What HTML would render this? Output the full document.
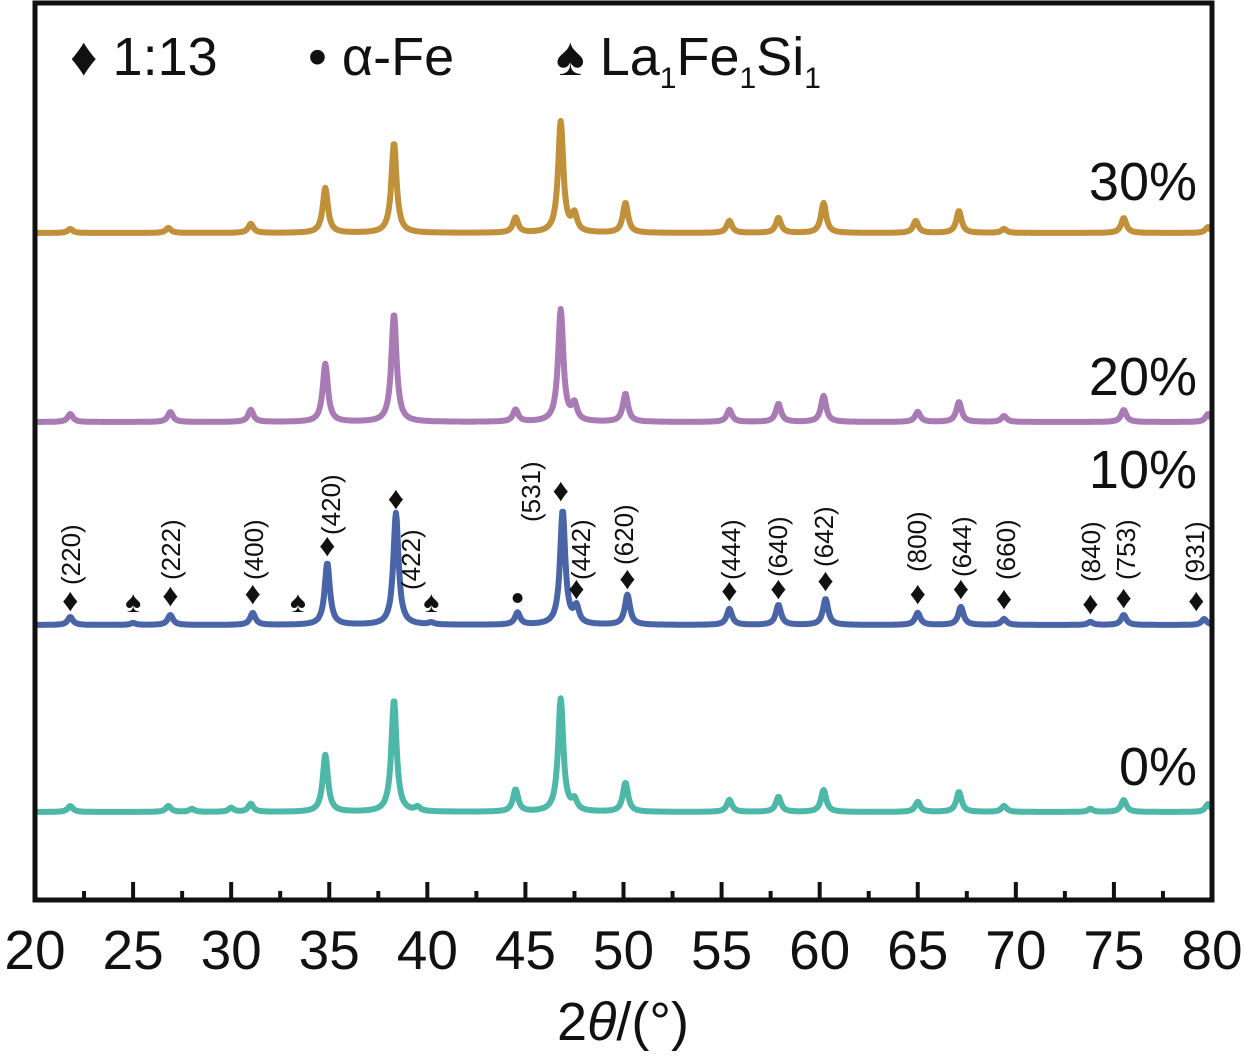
<!DOCTYPE html>
<html><head><meta charset="utf-8"><style>
body{margin:0;background:#fff;}
svg{display:block;font-family:"Liberation Sans",Arial,sans-serif;}
</style></head><body>
<svg id="chart" width="1245" height="1059" viewBox="0 0 1245 1059" xmlns="http://www.w3.org/2000/svg">
<g id="series"></g>
<g id="marks"></g>
<rect x="35" y="3" width="1177" height="897" fill="none" stroke="#111" stroke-width="5"/>
<g id="axis"></g>
<text x="623" y="1040" font-size="54" text-anchor="middle" fill="#111">2<tspan font-style="italic">θ</tspan>/(°)</text>
<g font-size="54" fill="#111">
<text x="70" y="75">♦ 1:13</text>
<text x="308" y="75">• α-Fe</text>
<text x="556" y="75">♠ La<tspan font-size="30" dy="13">1</tspan><tspan dy="-13">Fe</tspan><tspan font-size="30" dy="13">1</tspan><tspan dy="-13">Si</tspan><tspan font-size="30" dy="13">1</tspan></text>
</g>
</svg>
<script>
const seriesNames=["30%","20%","10%","0%"];
const seriesColors=["#C0903A","#A87BB5","#4A64A8","#4DB8A8"];
const baselines=[233,422,625,812];
const labelY=[200,395,488,785];
const peaks30=[[21.8,4],[26.8,5],[31.0,9],[34.8,45],[38.3,90],[44.5,15],[46.8,111],[47.5,17],[50.1,30],[55.4,12],[57.9,15],[60.2,30],[64.9,12],[67.1,22],[69.4,4],[75.5,15],[79.8,6]];
const peaks20=[[21.8,8],[26.9,10],[31.0,12],[34.8,58],[38.3,108],[44.5,12],[46.8,112],[47.5,16],[50.1,28],[55.4,12],[57.9,18],[60.2,26],[65.0,10],[67.1,20],[69.4,6],[75.5,12],[79.8,8]];
const peaks10=[[21.8,8],[25.0,2],[26.9,10],[31.1,12],[34.9,62],[38.4,112],[40.2,2],[44.6,12],[46.9,114],[47.6,16],[50.2,30],[55.4,16],[57.9,20],[60.3,26],[65.0,12],[67.2,18],[69.4,6],[73.8,3],[75.5,10],[79.6,6]];
const peaks0=[[21.8,6],[26.8,6],[28.0,3],[30.0,4],[31.0,8],[34.8,57],[38.3,112],[39.5,4],[44.5,22],[46.8,113],[47.5,10],[50.1,29],[55.4,12],[57.9,15],[60.2,22],[65.0,10],[67.1,20],[69.4,6],[73.8,3],[75.5,12],[79.8,8]];
const allPeaks=[peaks30,peaks20,peaks10,peaks0];
const xTicks=[20,25,30,35,40,45,50,55,60,65,70,75,80];
const hklLabels=["(220)","(222)","(400)","(420)","(422)","(531)","(442)","(620)","(444)","(640)","(642)","(800)","(644)","(660)","(840)","(753)","(931)"];
const hklPos=[21.8,26.9,31.1,34.9,38.4,46.8,47.6,50.2,55.4,57.9,60.3,65.0,67.2,69.4,73.8,75.5,79.2];
const diamondY=[600,595,593,545,498,490,588,578,590,588,580,593,588,598,603,597,600];
const labelBottom=[585,580,580,535,590,522,580,565,580,577,567,572,577,580,582,580,582];
const labelX=[80,180,263,340,420,540,590,633,740,787,833,926,971,1015,1100,1135,1204];
const spadePos=[25.0,33.4,40.2];
const fePos=[44.6];
const NS="http://www.w3.org/2000/svg";
const xs=v=>35+(v-20)*1177/60;
const series=document.getElementById('series');
allPeaks.forEach((pk,i)=>{
  let d="";
  for(let t=20.0;t<=80.001;t+=0.04){
    let y=0;
    pk.forEach(p=>{const w=0.16;y+=p[1]/(1+((t-p[0])/w)**2);});
    d+=(d?"L":"M")+xs(t).toFixed(1)+","+(baselines[i]-y).toFixed(1);
  }
  const path=document.createElementNS(NS,'path');
  
  
  path.setAttribute('d',d);path.setAttribute('fill','none');
  path.setAttribute('stroke',seriesColors[i]);path.setAttribute('stroke-width','6');
  path.setAttribute('stroke-linejoin','round');
  series.appendChild(path);
  const tx=document.createElementNS(NS,'text');
  
  
  tx.setAttribute('x',1197);tx.setAttribute('y',labelY[i]);
  tx.setAttribute('text-anchor','end');tx.setAttribute('font-size','54');tx.setAttribute('fill','#111');
  tx.textContent=seriesNames[i];series.appendChild(tx);
});
const marks=document.getElementById('marks');
hklPos.forEach((p,i)=>{
  const dm=document.createElementNS(NS,'text');
  
  
  dm.setAttribute('x',xs(p));dm.setAttribute('y',diamondY[i]+11);
  dm.setAttribute('text-anchor','middle');dm.setAttribute('font-size','32');dm.setAttribute('fill','#111');
  dm.textContent='♦';marks.appendChild(dm);
  const lb=document.createElementNS(NS,'text');
  
  
  lb.setAttribute('transform','translate('+labelX[i]+','+labelBottom[i]+') rotate(-90)');
  lb.setAttribute('font-size','26');lb.setAttribute('fill','#111');
  lb.textContent=hklLabels[i];marks.appendChild(lb);
});
spadePos.forEach(p=>{
  const s=document.createElementNS(NS,'text');
  
  
  s.setAttribute('x',xs(p));s.setAttribute('y',612);
  s.setAttribute('text-anchor','middle');s.setAttribute('font-size','30');s.setAttribute('fill','#111');
  s.textContent='♠';marks.appendChild(s);
});
fePos.forEach(p=>{
  const c=document.createElementNS(NS,'circle');
  
  
  c.setAttribute('cx',xs(p));c.setAttribute('cy',598);c.setAttribute('r',5);c.setAttribute('fill','#111');
  marks.appendChild(c);
});
const axis=document.getElementById('axis');
for(let v=20;v<=80;v+=2.5){
  const major=(v%5===0);
  const l=document.createElementNS(NS,'line');
  
  
  l.setAttribute('x1',xs(v));l.setAttribute('x2',xs(v));
  l.setAttribute('y1',900);l.setAttribute('y2',major?882:891);
  l.setAttribute('stroke','#111');l.setAttribute('stroke-width','4');
  axis.appendChild(l);
}
xTicks.forEach(v=>{
  const t=document.createElementNS(NS,'text');
  
  
  t.setAttribute('x',xs(v));t.setAttribute('y',969);
  t.setAttribute('text-anchor','middle');t.setAttribute('font-size','55');t.setAttribute('fill','#111');
  t.textContent=v;axis.appendChild(t);
});
</script>
</body></html>
